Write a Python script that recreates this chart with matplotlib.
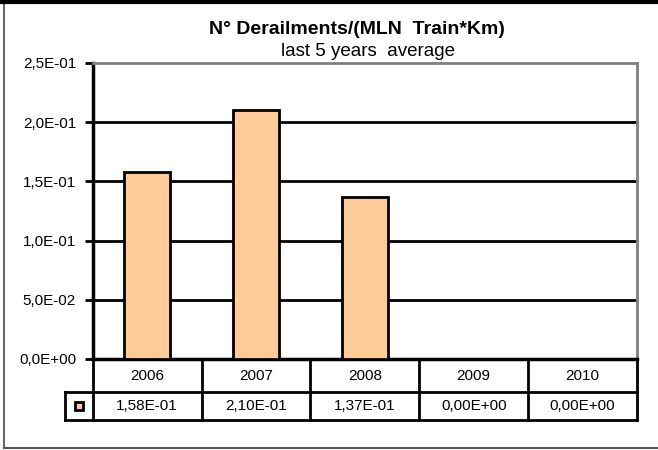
import matplotlib
matplotlib.use("Agg")
import matplotlib.pyplot as plt
from matplotlib.patches import Rectangle
import matplotlib.transforms as mtransforms

plt.rcParams['font.family'] = ['Liberation Sans', 'DejaVu Sans']

years = ["2006", "2007", "2008", "2009", "2010"]
values = [0.158, 0.210, 0.137, 0.0, 0.0]
value_labels = ["1,58E-01", "2,10E-01", "1,37E-01", "0,00E+00", "0,00E+00"]
yticks = [0.0, 0.05, 0.10, 0.15, 0.20, 0.25]
ytick_labels = ["0,0E+00", "5,0E-02", "1,0E-01", "1,5E-01", "2,0E-01", "2,5E-01"]

W, H = 658, 450
fig = plt.figure(figsize=(W/100, H/100), dpi=100)
L, R, T, B = 92.7, 637, 63, 359
ax = fig.add_axes([L/W, 1-B/H, (R-L)/W, (B-T)/H])

x = list(range(len(years)))
ax.bar(x, values, width=0.42, color="#FFCC99", edgecolor="black", linewidth=2, zorder=3)
ax.set_xlim(-0.5, len(years)-0.5)
ax.set_ylim(0, 0.25)
ax.set_yticks(yticks)
ax.set_yticklabels(ytick_labels, fontsize=11)
ax.set_xticks([])
for yv in yticks[1:-1]:
    ax.axhline(yv, color="black", lw=2, zorder=1)
ax.tick_params(axis='y', direction='out', length=6, width=2, pad=6)
for s in ["top", "right"]:
    ax.spines[s].set_color("#808080")
    ax.spines[s].set_linewidth(2)
ax.spines["left"].set_linewidth(2.5)
ax.spines["bottom"].set_linewidth(2.5)

# Table below
tr = mtransforms.blended_transform_factory(ax.transData, ax.transAxes)
h = B - T
y1 = -(392 - B)/h
y2 = -(420 - B)/h
xl = -0.5 + (65 - L)/((R-L)/5)
kw = dict(color="black", lw=2, clip_on=False, transform=tr, solid_capstyle="projecting")
ax.plot([-0.5, 4.5], [y1, y1], **kw)
ax.plot([xl, 4.5], [y2, y2], **kw)
ax.plot([xl, -0.5], [y1, y1], **kw)
ax.plot([xl, xl], [y1, y2], **kw)
for i in range(len(years)+1):
    ax.plot([i-0.5, i-0.5], [0, y2], **kw)
for i, (yr, vl) in enumerate(zip(years, value_labels)):
    ax.text(i, y1/2, yr, ha="center", va="center", fontsize=11, transform=tr)
    ax.text(i, (y1+y2)/2, vl, ha="center", va="center", fontsize=11, transform=tr)
# legend key
ax.add_patch(Rectangle((xl + (-0.5 - xl)/2 - 0.035, (y1+y2)/2 - 0.012), 0.07, 0.024,
                       facecolor="#FFCC99", edgecolor="black", lw=2, transform=tr, clip_on=False))

fig.text(357/W, 1-30/H, "N° Derailments/(MLN  Train*Km)", ha="center", va="center",
         fontsize=14, fontweight="bold")
fig.text(368/W, 1-51/H, "last 5 years  average", ha="center", va="center", fontsize=13.5)

# outer frame (left, bottom, top)
fig.add_artist(plt.Line2D([3.5/W, 3.5/W], [2/H, 1], transform=fig.transFigure, color="#666666", lw=1.5))
fig.add_artist(plt.Line2D([3.5/W, 1], [2/H, 2/H], transform=fig.transFigure, color="#555555", lw=1.5))
fig.add_artist(plt.Line2D([0, 1], [1-1.5/H, 1-1.5/H], transform=fig.transFigure, color="black", lw=3))

fig.savefig("out.png", dpi=100)
